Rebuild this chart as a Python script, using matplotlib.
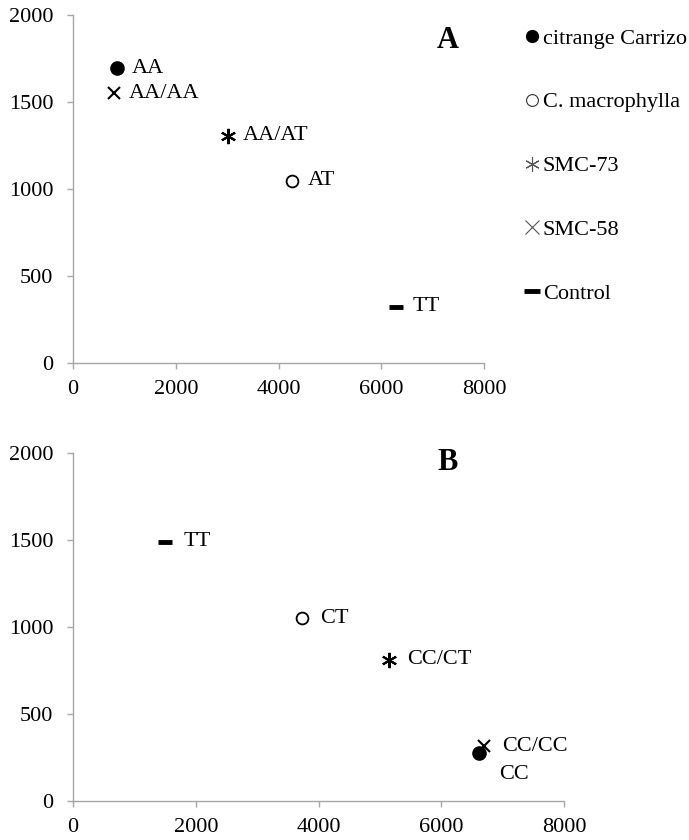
import numpy as np
import matplotlib
matplotlib.use('Agg')
import matplotlib.pyplot as plt
from matplotlib.lines import Line2D

plt.rcParams['font.family'] = ['Liberation Serif', 'DejaVu Serif']

# ================= DATA =================
series_names = ['citrange Carrizo', 'C. macrophylla', 'SMC-73', 'SMC-58', 'Control']

# panel A
a_x = [856, 4263, 3017, 798, 6287]
a_y = [1694, 1046, 1306, 1549, 324]
a_lbl = ['AA', 'AT', 'AA/AT', 'AA/AA', 'TT']

# panel B
b_x = [6622, 3735, 5156, 6698, 1504]
b_y = [273, 1049, 811, 315, 1489]
b_lbl = ['CC', 'CT', 'CC/CT', 'CC/CC', 'TT']

x_ticks = [0, 2000, 4000, 6000, 8000]
y_ticks = [0, 500, 1000, 1500, 2000]

# ================= STYLES =================
styles = [
    dict(marker='o', ms=9.5, mfc='black', mec='black', mew=1),
    dict(marker='o', ms=8.5, mfc='white', mec='black', mew=1.3),
    dict(marker=(6, 2, 0), ms=11, mfc='none', mec='black', mew=1.5),
    dict(marker='x', ms=9, mfc='none', mec='black', mew=1.5),
    dict(marker='_', ms=10, mfc='none', mec='black', mew=3.5),
]
axis_col = '#a6a6a6'
fs = 16


def style_axes(ax):
    ax.set_xlim(0, 8000)
    ax.set_ylim(0, 2000)
    ax.set_xticks(x_ticks)
    ax.set_yticks(y_ticks)
    for s in ['top', 'right']:
        ax.spines[s].set_visible(False)
    for s in ['left', 'bottom']:
        ax.spines[s].set_color(axis_col)
        ax.spines[s].set_linewidth(1.0)
    ax.tick_params(direction='out', length=4.5, color=axis_col, width=1.0, labelsize=fs)
    ax.tick_params(axis='y', pad=9.5)
    ax.tick_params(axis='x', pad=8)


def draw_points(ax, xs, ys, lbls, offsets):
    for i in range(len(xs)):
        ax.plot(xs[i], ys[i], ls='none', **styles[i], zorder=3, clip_on=False)
        ax.annotate(lbls[i], (xs[i], ys[i]), xytext=offsets[i], textcoords='offset points',
                    fontsize=fs, va='center', ha='left')


fig = plt.figure(figsize=(6.89, 8.4), dpi=100)

axA = fig.add_axes([73/689, 1-363/840, (484-73)/689, (363-15)/840])
style_axes(axA)
draw_points(axA, a_x, a_y, a_lbl, [(11, 0), (11, 0), (11, 0), (11, 0), (12, 0)])
fig.text(448/689, 1-41/840, 'A', fontsize=22, fontweight='bold', ha='center', va='center')

axB = fig.add_axes([73/689, 1-801/840, (564-73)/689, (801-453)/840])
style_axes(axB)
draw_points(axB, b_x, b_y, b_lbl, [(14, -15), (13, 0), (13, 0), (13, 0), (13, 0)])
fig.text(448/689, 1-462/840, 'B', fontsize=22, fontweight='bold', ha='center', va='center')

# legend, right of panel A
handles = []
leg_styles = [
    dict(marker='o', ms=8.5, mfc='black', mec='black'),
    dict(marker='o', ms=8.5, mfc='white', mec='#333333', mew=0.8),
    dict(marker=(6, 2, 0), ms=10.5, mec='#555555', mew=0.8),
    dict(marker='x', ms=10, mec='#555555', mew=0.8),
    dict(marker='_', ms=11, mec='black', mew=3.5),
]
for i, nm in enumerate(series_names):
    handles.append(Line2D([], [], ls='none', label=nm, **leg_styles[i]))
fig.legend(handles=handles, loc='upper left', bbox_to_anchor=(525/689, 1-28/840),
           frameon=False, fontsize=fs, labelspacing=1.95, handlelength=0.6,
           handletextpad=0.2, borderaxespad=0, borderpad=0)

fig.savefig('out.png', dpi=100)
